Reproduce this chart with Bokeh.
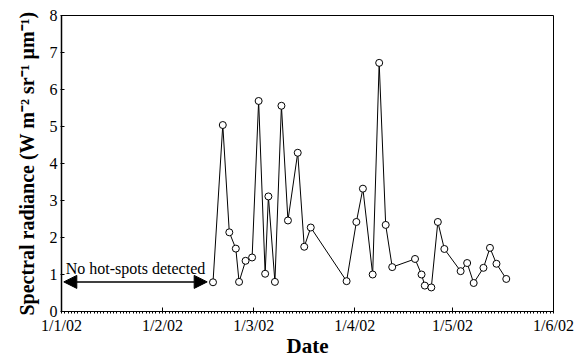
import pandas as pd
from bokeh.plotting import figure
from bokeh.models import (FixedTicker, DatetimeTickFormatter, Range1d, Arrow,
                          NormalHead, Label, ColumnDataSource)
from bokeh.embed import file_html
from bokeh.resources import INLINE

# ---- data ----
dates = ["2002-02-16", "2002-02-19", "2002-02-21", "2002-02-23", "2002-02-24",
         "2002-02-26", "2002-02-28", "2002-03-02", "2002-03-04", "2002-03-05",
         "2002-03-07", "2002-03-09", "2002-03-11", "2002-03-14", "2002-03-16",
         "2002-03-18", "2002-03-29", "2002-04-01", "2002-04-03", "2002-04-06",
         "2002-04-08", "2002-04-10", "2002-04-12", "2002-04-19", "2002-04-21",
         "2002-04-22", "2002-04-24", "2002-04-26", "2002-04-28", "2002-05-03",
         "2002-05-05", "2002-05-07", "2002-05-10", "2002-05-12", "2002-05-14",
         "2002-05-17"]
radiance = [0.79, 5.04, 2.14, 1.70, 0.80,
            1.37, 1.46, 5.69, 1.02, 3.11,
            0.80, 5.56, 2.46, 4.29, 1.75,
            2.27, 0.82, 2.42, 3.32, 1.00,
            6.72, 2.34, 1.20, 1.42, 1.00,
            0.70, 0.65, 2.42, 1.69, 1.09,
            1.31, 0.77, 1.18, 1.72, 1.29,
            0.88]
tick_dates = ["2002-01-01", "2002-02-01", "2002-03-01", "2002-04-01",
              "2002-05-01", "2002-06-01"]
y_ticks = [0, 1, 2, 3, 4, 5, 6, 7, 8]
no_detect_start = "2002-01-01 17:00"
no_detect_end = "2002-02-14 17:00"
no_detect_level = 0.8
no_detect_text = "No hot-spots detected"

# ---- build ----
x = pd.to_datetime(dates) + pd.Timedelta(hours=12)
src = ColumnDataSource(dict(x=x, y=radiance))

tick_ts = pd.to_datetime(tick_dates)
tick_ms = [t.value / 1e6 for t in tick_ts]
days = pd.date_range(tick_ts[0], tick_ts[-1], freq="D")
minor_ms = [d.value / 1e6 for d in days]

SERIF = "Liberation Serif"

p = figure(width=585, height=360, x_axis_type="datetime",
           output_backend="svg", toolbar_location=None,
           x_range=Range1d(tick_ts[0], tick_ts[-1]),
           y_range=Range1d(y_ticks[0], y_ticks[-1]),
           min_border_left=61, min_border_right=32,
           min_border_top=15, min_border_bottom=48)

p.background_fill_color = "white"
p.border_fill_color = "white"
p.outline_line_color = "black"
p.outline_line_width = 1
p.outline_line_alpha = 1
p.xgrid.visible = False
p.ygrid.visible = False

p.line("x", "y", source=src, line_color="black", line_width=1)
p.scatter("x", "y", source=src, size=7, marker="circle",
          fill_color="white", line_color="black", line_width=1)

# arrow and annotation
t0 = pd.Timestamp(no_detect_start)
t1 = pd.Timestamp(no_detect_end)
mid = t0 + (t1 - t0) / 2
p.add_layout(Arrow(x_start=t0.value / 1e6, x_end=t1.value / 1e6,
                   y_start=no_detect_level, y_end=no_detect_level,
                   line_color="black", line_width=1.5,
                   start=NormalHead(size=13, fill_color="black", line_color="black"),
                   end=NormalHead(size=13, fill_color="black", line_color="black")))
p.add_layout(Label(x=mid.value / 1e6, y=1.15, text=no_detect_text,
                   text_font=SERIF, text_font_size="16px",
                   text_align="center", text_baseline="alphabetic",
                   text_color="black"))

# x axis
xa = p.xaxis[0]
xa.ticker = FixedTicker(ticks=tick_ms, minor_ticks=minor_ms)
fmt = "%-d/%-m/%y"
xa.formatter = DatetimeTickFormatter(
    microseconds=fmt, milliseconds=fmt, seconds=fmt, minsec=fmt, minutes=fmt,
    hourmin=fmt, hours=fmt, days=fmt, months=fmt, years=fmt)
xa.axis_label = "Date"
xa.axis_label_text_font = SERIF
xa.axis_label_text_font_style = "bold"
xa.axis_label_text_font_size = "21px"
xa.axis_label_text_color = "black"
xa.axis_label_standoff = -3
xa.major_label_text_font = SERIF
xa.major_label_text_font_size = "16px"
xa.major_label_text_color = "black"
xa.major_label_standoff = 3
xa.major_tick_in = 4
xa.major_tick_out = 1
xa.minor_tick_in = 0
xa.minor_tick_out = 2
xa.axis_line_color = "black"
xa.major_tick_line_color = "black"
xa.minor_tick_line_color = "black"

# y axis
ya = p.yaxis[0]
ya.ticker = FixedTicker(ticks=y_ticks)
ya.axis_label = "Spectral radiance (W m\u207b\u00b2 sr\u207b\u00b9 \u03bcm\u207b\u00b9)"
ya.axis_label_text_font = SERIF
ya.axis_label_text_font_style = "bold"
ya.axis_label_text_font_size = "20px"
ya.axis_label_text_color = "black"
ya.axis_label_standoff = 9
ya.major_label_text_font = SERIF
ya.major_label_text_font_size = "16px"
ya.major_label_text_color = "black"
ya.major_label_standoff = 3
ya.major_tick_in = 3
ya.major_tick_out = 1
ya.minor_tick_line_color = None
ya.axis_line_color = "black"
ya.axis_line_width = 1.5
ya.major_tick_line_color = "black"

open("out.html", "w").write(file_html(p, INLINE))
